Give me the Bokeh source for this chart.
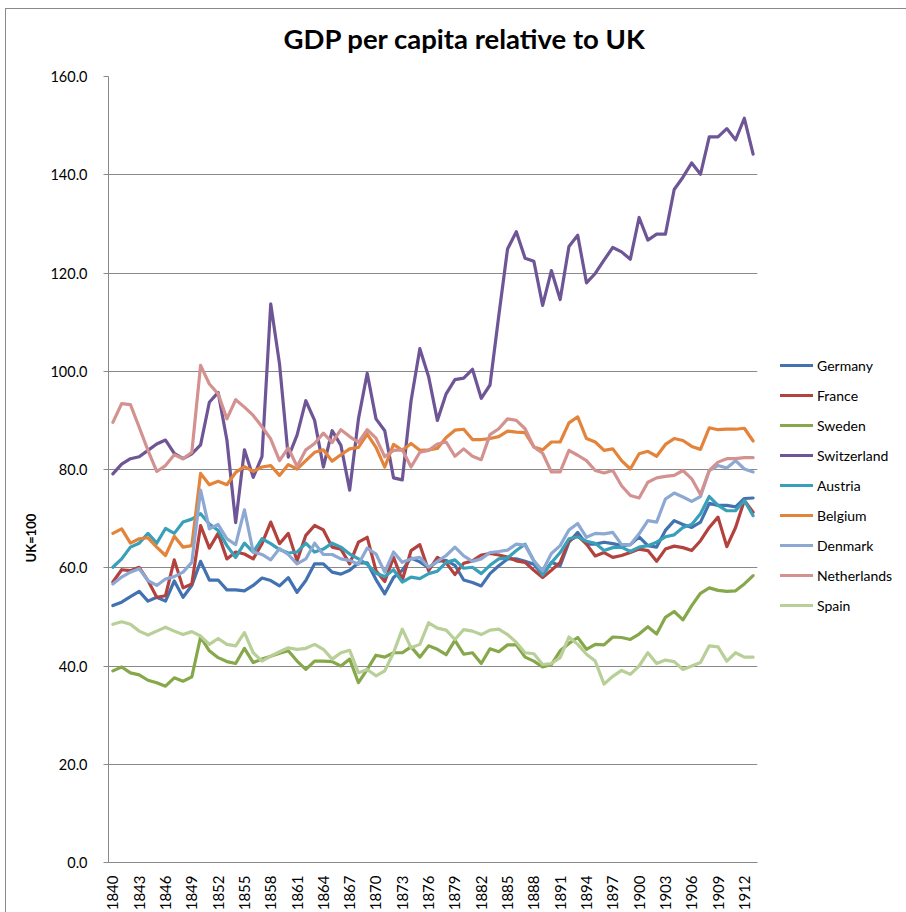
from math import pi

from bokeh.embed import file_html
from bokeh.models import FixedTicker, Legend, LegendItem, PrintfTickFormatter, Range1d, Title
from bokeh.plotting import figure
from bokeh.resources import INLINE

# GDP per capita of each country, as an index with the UK = 100, 1840-1913
years = list(range(1840, 1914))

germany = [52.3, 53.0, 54.1, 55.2, 53.2, 54.0, 53.2, 57.3, 54.0, 56.4,
           61.3, 57.5, 57.5, 55.5, 55.5, 55.3, 56.4, 57.9, 57.4, 56.3,
           58.0, 55.0, 57.4, 60.8, 60.8, 59.1, 58.7, 59.5, 61.0, 61.0,
           57.6, 54.7, 58.0, 59.5, 62.0, 61.2, 60.0, 61.3, 61.5, 60.5,
           57.5, 57.0, 56.3, 58.8, 60.4, 61.8, 61.8, 61.3, 60.7, 58.6,
           61.1, 60.4, 65.2, 67.2, 64.8, 64.8, 65.2, 64.9, 64.5, 64.7,
           66.3, 64.5, 64.2, 67.6, 69.6, 68.8, 68.2, 69.3, 73.1, 72.7,
           72.7, 72.4, 74.1, 74.2]

france = [57.1, 59.6, 59.4, 60.1, 57.4, 54.0, 54.3, 61.6, 55.9, 56.7,
          68.6, 64.0, 67.0, 61.8, 63.2, 62.8, 61.8, 64.9, 69.3, 64.9,
          67.0, 61.4, 66.6, 68.6, 67.7, 64.2, 63.8, 60.8, 65.2, 66.2,
          59.4, 57.2, 62.1, 57.5, 63.5, 64.7, 59.4, 62.1, 61.0, 58.6,
          60.9, 61.4, 62.6, 62.9, 62.6, 62.2, 61.4, 61.1, 59.5, 58.0,
          59.5, 61.1, 65.5, 66.5, 64.8, 62.4, 63.1, 62.1, 62.5, 63.1,
          63.8, 63.5, 61.3, 63.8, 64.4, 64.1, 63.5, 65.5, 68.2, 70.3,
          64.3, 68.2, 73.7, 71.3]

sweden = [39.0, 39.8, 38.6, 38.2, 37.1, 36.6, 35.9, 37.6, 36.9, 37.8,
          45.9, 43.1, 41.7, 40.9, 40.5, 43.6, 40.7, 41.4, 42.0, 42.6,
          43.1, 41.0, 39.3, 41.0, 41.0, 40.9, 40.0, 41.4, 36.6, 39.3,
          42.2, 41.8, 42.7, 42.7, 43.9, 41.8, 44.1, 43.4, 42.3, 45.2,
          42.4, 42.7, 40.5, 43.5, 42.9, 44.3, 44.3, 41.8, 41.0, 39.8,
          40.3, 43.1, 44.6, 45.8, 43.4, 44.4, 44.3, 45.9, 45.8, 45.4,
          46.5, 48.0, 46.5, 49.9, 51.1, 49.4, 52.3, 54.8, 55.9, 55.4,
          55.2, 55.3, 56.7, 58.4]

switzerland = [79.1, 81.1, 82.2, 82.6, 83.9, 85.2, 86.0, 83.3, 82.2, 83.2,
               85.0, 93.7, 95.7, 86.0, 69.2, 84.0, 78.4, 82.6, 113.7, 101.5,
               82.5, 87.0, 94.0, 90.0, 80.5, 87.9, 84.9, 75.8, 90.3, 99.6,
               90.3, 87.9, 78.3, 77.9, 94.0, 104.6, 98.9, 90.0, 95.4, 98.3,
               98.6, 100.4, 94.5, 97.2, 111.3, 124.9, 128.4, 123.0, 122.4, 113.4,
               120.5, 114.6, 125.4, 127.7, 118.0, 119.9, 122.6, 125.2, 124.3, 122.8,
               131.3, 126.7, 127.9, 127.9, 137.0, 139.5, 142.4, 140.1, 147.7, 147.7,
               149.4, 147.1, 151.5, 144.2]

austria = [60.1, 61.8, 64.2, 65.0, 67.0, 65.0, 68.0, 67.0, 69.3, 69.9,
           71.0, 68.9, 67.6, 64.5, 62.1, 65.0, 63.2, 65.9, 64.9, 63.7,
           63.0, 63.2, 65.0, 63.2, 63.8, 65.0, 64.2, 62.8, 61.8, 60.7,
           58.9, 58.2, 59.6, 57.1, 58.1, 57.8, 58.8, 59.3, 61.1, 61.6,
           59.9, 60.1, 58.8, 60.5, 61.8, 62.0, 63.5, 64.8, 61.4, 58.5,
           61.0, 63.1, 65.9, 66.3, 65.4, 65.0, 63.5, 64.1, 64.2, 63.3,
           64.2, 64.5, 65.2, 66.3, 66.7, 68.2, 68.8, 71.0, 74.5, 72.7,
           71.6, 71.6, 73.7, 70.6]

belgium = [67.0, 67.9, 65.0, 65.9, 66.1, 64.2, 62.5, 66.4, 64.2, 64.5,
           79.2, 76.9, 77.6, 76.9, 79.4, 80.6, 79.6, 80.5, 80.8, 78.8,
           81.0, 80.1, 81.8, 83.5, 84.0, 81.7, 83.0, 84.2, 84.5, 87.2,
           84.5, 80.5, 85.1, 83.9, 85.3, 83.9, 84.0, 84.3, 86.5, 88.0,
           88.2, 86.1, 86.1, 86.3, 86.7, 87.8, 87.6, 87.5, 84.6, 84.0,
           85.6, 85.6, 89.5, 90.7, 86.3, 85.6, 83.9, 84.2, 81.8, 80.1,
           83.2, 83.7, 82.7, 85.1, 86.3, 85.9, 84.7, 84.1, 88.5, 88.1,
           88.2, 88.2, 88.4, 85.8]

denmark = [56.7, 58.1, 59.1, 59.8, 57.4, 56.4, 57.7, 58.2, 59.1, 61.1,
           75.8, 67.9, 68.8, 65.9, 64.7, 71.8, 63.2, 62.7, 61.6, 63.9,
           62.7, 60.8, 61.8, 65.0, 62.7, 62.7, 61.8, 61.5, 60.7, 64.0,
           62.8, 59.1, 63.2, 61.1, 61.8, 62.1, 60.1, 61.3, 62.5, 64.2,
           62.4, 61.3, 61.8, 63.1, 63.3, 63.6, 64.8, 64.6, 61.4, 59.4,
           62.9, 64.5, 67.7, 69.0, 66.2, 67.0, 66.9, 67.2, 64.7, 64.7,
           66.9, 69.6, 69.3, 74.0, 75.2, 74.4, 73.5, 74.5, 79.8, 80.8,
           80.3, 81.8, 80.1, 79.5]

netherlands = [89.6, 93.4, 93.2, 88.6, 83.9, 79.6, 80.8, 83.0, 82.2, 83.5,
               101.2, 97.4, 95.4, 90.3, 94.2, 92.7, 91.0, 88.7, 86.2, 81.8,
               84.4, 80.6, 84.0, 85.3, 87.4, 85.5, 88.1, 86.7, 85.5, 88.1,
               86.4, 82.6, 83.9, 84.0, 80.5, 83.5, 83.9, 85.2, 85.6, 82.7,
               84.2, 82.7, 82.0, 87.1, 88.3, 90.3, 90.0, 88.3, 84.6, 83.3,
               79.5, 79.5, 83.9, 82.9, 81.8, 79.8, 79.3, 79.8, 76.7, 74.7,
               74.2, 77.4, 78.3, 78.6, 78.8, 79.8, 78.1, 74.9, 79.8, 81.5,
               82.2, 82.2, 82.4, 82.4]

spain = [48.5, 49.0, 48.5, 47.1, 46.3, 47.1, 47.9, 47.1, 46.4, 47.0,
         46.1, 44.4, 45.6, 44.4, 44.1, 46.8, 42.7, 41.0, 42.0, 42.9,
         43.7, 43.4, 43.6, 44.4, 43.4, 41.4, 42.7, 43.2, 38.6, 39.3,
         38.0, 39.0, 42.7, 47.5, 43.7, 44.4, 48.8, 47.7, 47.3, 45.4,
         47.4, 47.1, 46.4, 47.3, 47.5, 46.4, 44.8, 42.7, 42.5, 40.3,
         40.5, 41.7, 45.9, 44.4, 42.4, 41.0, 36.3, 37.9, 39.1, 38.3,
         40.0, 42.7, 40.5, 41.2, 40.9, 39.3, 40.0, 40.7, 44.1, 43.9,
         41.0, 42.7, 41.8, 41.8]

country_names = ["Germany", "France", "Sweden", "Switzerland", "Austria",
                 "Belgium", "Denmark", "Netherlands", "Spain"]
country_series = [germany, france, sweden, switzerland, austria,
                  belgium, denmark, netherlands, spain]
country_colors = ["#4273B0", "#B3423F", "#86A84A", "#6E5596", "#38A0B8",
                  "#E3843A", "#8DA8D3", "#D39290", "#B8CF98"]

tick_years = years[::3]
tick_labels = [str(y) for y in tick_years]
y_ticks = [0, 20, 40, 60, 80, 100, 120, 140, 160]

FONT = "Lato"
GRID = "#898989"

p = figure(
    frame_width=649, frame_height=786,
    output_backend="svg", toolbar_location=None,
    x_range=Range1d(years[0] - 0.5, years[-1] + 0.5),
    y_range=Range1d(0, 160),
    min_border_left=103, min_border_right=148,
    min_border_top=75, min_border_bottom=50,
)
# thin grey chart-area border along the top and left, painted behind
# the (transparent) canvas margins
p.margin = (1, 0, 0, 5)
p.styles = {
    "background": (
        "linear-gradient(#8a8a8a, #8a8a8a) 0 7px / 100% 1px no-repeat, "
        "linear-gradient(#8a8a8a, #8a8a8a) 0 7px / 1px 100% no-repeat, "
        "#ffffff"
    )
}

p.outline_line_color = None
p.background_fill_color = "white"
p.border_fill_alpha = 0

p.add_layout(Title(text="GDP per capita relative to UK", align="left",
                   vertical_align="top", offset=175, standoff=39,
                   text_font=FONT, text_font_style="bold",
                   text_font_size="27.5px", text_color="#000000"), "above")

# y axis
p.yaxis.ticker = FixedTicker(ticks=y_ticks)
p.yaxis.formatter = PrintfTickFormatter(format="%.1f")
p.yaxis.axis_line_color = GRID
p.yaxis.major_tick_line_color = GRID
p.yaxis.major_tick_out = 5
p.yaxis.major_tick_in = 0
p.yaxis.minor_tick_line_color = None
p.yaxis.major_label_standoff = 16
p.yaxis.major_label_text_font = FONT
p.yaxis.major_label_text_font_size = "14.5px"
p.yaxis.major_label_text_color = "#000000"

# axis name, set a little below the middle of the axis
p.add_layout(Title(text="UK=100", align="left", offset=300, standoff=18,
                   text_font=FONT, text_font_style="bold",
                   text_font_size="13px", text_color="#000000"), "left")

# x axis: every third year, labels turned upright
p.xaxis.ticker = FixedTicker(ticks=tick_years)
p.xaxis.major_label_overrides = dict(zip(tick_years, tick_labels))
p.xaxis.major_label_orientation = pi / 2
p.xaxis.axis_line_color = GRID
p.xaxis.major_tick_line_color = None
p.xaxis.minor_tick_line_color = None
p.xaxis.major_label_standoff = 7
p.xaxis.major_label_text_font = FONT
p.xaxis.major_label_text_font_size = "15px"
p.xaxis.major_label_text_color = "#000000"

p.xgrid.grid_line_color = None
p.ygrid.grid_line_color = GRID
p.ygrid.grid_line_width = 1

items = []
for name, series, color in zip(country_names, country_series, country_colors):
    r = p.line(years, series, line_color=color, line_width=3.2,
               line_join="round", line_cap="round")
    items.append(LegendItem(label=name, renderers=[r]))

legend = Legend(
    items=items,
    location=(23, 247),
    orientation="vertical",
    label_text_font=FONT,
    label_text_font_size="14px",
    label_text_color="#000000",
    label_standoff=4,
    label_height=20,
    glyph_width=33,
    glyph_height=20,
    spacing=10,
    padding=0,
    margin=0,
    border_line_color=None,
    background_fill_alpha=0,
)
p.add_layout(legend, "right")

open("out.html", "w").write(file_html(p, INLINE))
